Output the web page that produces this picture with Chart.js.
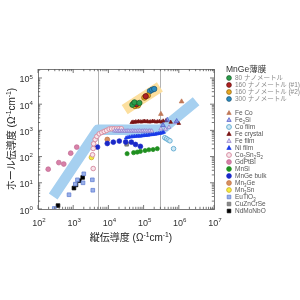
<!DOCTYPE html>
<html><head><meta charset="utf-8">
<script src="https://cdn.jsdelivr.net/npm/chart.js@4.4.1/dist/chart.umd.min.js"></script>
<style>html,body{margin:0;padding:0;background:#fff}#wrap{width:300px;height:300px;position:relative}</style>
</head><body><div id="wrap"><canvas id="c" width="300" height="300"></canvas></div>
<script>
// ---- axes ----
const xMin = 100, xMax = 1e7;
const yMin = 1, yMax = 220000;
const xTickExps = [2, 3, 4, 5, 6, 7];
const yTickExps = [0, 1, 2, 3, 4, 5];
const crossoverLines = [5000, 300000];
const xTitle = [{t:'縦伝導度 (Ω'},{t:'-1',s:1},{t:'cm'},{t:'-1',s:1},{t:')'}];
const yTitle = [{t:'ホール伝導度 (Ω'},{t:'-1',s:1},{t:'cm'},{t:'-1',s:1},{t:')'}];
const legendTitle = 'MnGe薄膜';

// ---- guide bands ----
const blueBandX = [270, 5000, 316000, 3100000];
const blueBandY = [3, 1050, 1050, 12900];
const yellowBandX = [29000, 290000];
const yellowBandY = [6200, 45700];

// ---- MnGe thin films ----
const mnge80X = [48000, 55000, 76000];
const mnge80Y = [9500, 11700, 11200];
const mnge160aX = [52000, 63000, 115000];
const mnge160aY = [10500, 10000, 20000];
const mnge160bX = [57000, 69000, 105000, 132000];
const mnge160bY = [8500, 8900, 17800, 21400];
const mnge300X = [151000, 174000, 200000];
const mnge300Y = [31600, 35500, 38000];

// ---- other materials ----
const feCoX = [310000, 1200000];
const feCoY = [4200, 12600];
const fe3SiX = [355000, 470000, 870000];
const fe3SiY = [1580, 2500, 2240];
const coFilmX = [400000, 450000, 500000, 560000, 710000];
const coFilmY = [525, 480, 435, 400, 200];
const feCrystalX = [46000, 50000, 55000, 60000, 66000, 72000, 80000, 88000, 97000, 107000, 118000, 130000, 145000, 160000, 180000, 200000, 225000, 250000, 280000, 320000, 360000, 430000, 590000, 1000000];
const feCrystalY = [2000, 2100, 2050, 2150, 2100, 2200, 2150, 2100, 2200, 2250, 2150, 2200, 2100, 2150, 2250, 2200, 2100, 2150, 2200, 2100, 2300, 2350, 2050, 1850];
const feFilmX = [15000, 17000, 19000, 21000, 24000, 27000, 30000, 34000, 38000, 43000, 48000, 54000, 60000, 68000, 76000, 85000, 95000, 107000, 120000, 135000, 150000, 170000, 310000, 420000, 525000, 810000];
const feFilmY = [950, 960, 940, 950, 960, 950, 940, 960, 950, 940, 960, 950, 940, 950, 960, 940, 950, 960, 950, 940, 960, 950, 1150, 1120, 1320, 2000];
const niFilmX = [32000, 36000, 40000, 45000, 50000, 56000, 63000, 70000, 78000, 87000, 97000, 108000, 120000, 135000, 150000, 170000, 190000, 215000, 240000, 270000, 300000, 340000, 370000];
const niFilmY = [520, 540, 560, 570, 580, 590, 600, 610, 600, 620, 630, 640, 650, 660, 680, 690, 700, 720, 740, 760, 780, 820, 850];
const co3Sn2S2X = [3700, 3550, 3700, 3800, 4200, 4700, 5500, 6500, 7600, 8900, 10500, 12300, 14500, 17000, 20000, 23400];
const co3Sn2S2Y = [35, 117, 204, 309, 447, 589, 741, 832, 912, 1000, 1120, 1150, 1150, 1140, 1150, 1150];
const gdPtBiX = [195, 390, 540, 850, 1260];
const gdPtBiY = [33, 59, 52, 135, 230];
const mnSiX = [34000, 52000, 66000, 81000, 110000, 141000, 186000, 245000];
const mnSiY = [129, 141, 148, 158, 170, 182, 186, 200];
const mnGeBulkX = [4900, 9300, 13800, 20400, 31000, 45000, 59000, 81000];
const mnGeBulkY = [230, 316, 355, 390, 360, 355, 290, 245];
const mn3GeX = [9300];
const mn3GeY = [450];
const mn3SnX = [3300];
const mn3SnY = [93];
const euTiO3X = [290, 760, 1150, 1320, 1900, 2000, 3500, 3600];
const euTiO3Y = [1.05, 3.5, 8.9, 13, 10, 22, 13, 5.2];
const cuZnCrSeX = [33000];
const cuZnCrSeY = [295];
const ndMoNbOX = [370, 1050, 1200, 1500, 1860];
const ndMoNbOY = [1.35, 6.3, 8.3, 12, 16];

const pts = (xs, ys) => xs.map((x, i) => ({x, y: ys[i]}));
const FONT = "'Liberation Sans', Arial, 'Noto Sans CJK JP', sans-serif";

function mk(label, parts, xs, ys, style, shape, r, bg, bd, bw) {
  return {label, legendParts: parts, legendGroup: style, data: pts(xs, ys), pointStyle: shape,
    pointRadius: r, backgroundColor: bg, borderColor: bd || bg, borderWidth: bw == null ? 0.7 : bw, showLine: false};
}

const series = [
  mk('80 ナノメートル', [{t:'80 ナノメートル'}], mnge80X, mnge80Y, 'jp', 'circle', 2.7, '#2a9d4a', '#1a5a2a'),
  mk('160 ナノメートル (#1)', [{t:'160 ナノメートル (#1)'}], mnge160aX, mnge160aY, 'jp', 'circle', 2.7, '#b02020', '#601010'),
  mk('160 ナノメートル (#2)', [{t:'160 ナノメートル (#2)'}], mnge160bX, mnge160bY, 'jp', 'circle', 2.7, '#e8a820', '#8a6010'),
  mk('300 ナノメートル', [{t:'300 ナノメートル'}], mnge300X, mnge300Y, 'jp', 'circle', 2.7, '#2a8cc0', '#185070'),
  mk('Fe Co', [{t:'Fe Co'}], feCoX, feCoY, 'm', 'triangle', 2.7, '#c07858'),
  mk('Fe3Si', [{t:'Fe'},{t:'3',b:1},{t:'Si'}], fe3SiX, fe3SiY, 'm', 'triangle', 2.7, 'rgba(110,120,220,0.6)', '#4a58c8'),
  mk('Co film', [{t:'Co film'}], coFilmX, coFilmY, 'm', 'circle', 2.3, '#cfe8f4', '#6ab0d4', 1),
  mk('Fe crystal', [{t:'Fe crystal'}], feCrystalX, feCrystalY, 'm', 'triangle', 2.1, '#7a1414'),
  mk('Fe film', [{t:'Fe film'}], feFilmX, feFilmY, 'm', 'triangle', 2.3, '#dcd4f2', '#8a78c8'),
  mk('Ni film', [{t:'Ni film'}], niFilmX, niFilmY, 'm', 'triangle', 2.1, '#1a3ae8'),
  mk('Co3Sn2S2', [{t:'Co'},{t:'3',b:1},{t:'Sn'},{t:'2',b:1},{t:'S'},{t:'2',b:1}], co3Sn2S2X, co3Sn2S2Y, 'm', 'circle', 2.3, '#f8e4ea', '#d890a4', 1),
  mk('GdPtBi', [{t:'GdPtBi'}], gdPtBiX, gdPtBiY, 'm', 'circle', 2.4, '#d880a8', '#c06890'),
  mk('MnSi', [{t:'MnSi'}], mnSiX, mnSiY, 'm', 'circle', 2.1, '#1f8f1f'),
  mk('MnGe bulk', [{t:'MnGe bulk'}], mnGeBulkX, mnGeBulkY, 'm', 'circle', 2.4, '#1a28c8'),
  mk('Mn3Ge', [{t:'Mn'},{t:'3',b:1},{t:'Ge'}], mn3GeX, mn3GeY, 'm', 'circle', 2.4, '#d89060', '#c07040'),
  mk('Mn3Sn', [{t:'Mn'},{t:'3',b:1},{t:'Sn'}], mn3SnX, mn3SnY, 'm', 'circle', 2.4, '#f2f040', '#c8a020'),
  mk('EuTiO3', [{t:'EuTiO'},{t:'3',b:1}], euTiO3X, euTiO3Y, 'm', 'rect', 2.6, '#9ab0e8', '#5a78d0'),
  mk('CuZnCrSe', [{t:'CuZnCrSe'}], cuZnCrSeX, cuZnCrSeY, 'm', 'rect', 2.6, '#8a8a8a', '#6a6a6a'),
  mk('NdMoNbO', [{t:'NdMoNbO'}], ndMoNbOX, ndMoNbOY, 'm', 'rect', 2.6, '#000000', '#000000')
];

const bands = [
  {label: 'band-yellow', data: pts(yellowBandX, yellowBandY), showLine: true, pointRadius: 0,
   borderColor: '#fcdf9e', borderWidth: 11, borderCapStyle: 'butt', fill: false},
  {label: 'band-blue', data: pts(blueBandX, blueBandY), showLine: true, pointRadius: 0,
   borderColor: '#a6d0f0', borderWidth: 10.5, borderCapStyle: 'butt', borderJoinStyle: 'round', fill: false}
];

function drawRich(ctx, parts, x, y, align, base, color, weight) {
  ctx.save();
  ctx.fillStyle = color; ctx.textBaseline = 'alphabetic'; ctx.textAlign = 'left';
  const small = base * 0.68;
  let w = 0;
  const ws = parts.map(p => { ctx.font = `${weight || 'normal'} ${(p.s || p.b) ? small : base}px ${FONT}`; const m = ctx.measureText(p.t).width; w += m; return m; });
  let cx = align === 'center' ? x - w / 2 : align === 'right' ? x - w : x;
  parts.forEach((p, i) => {
    ctx.font = `${weight || 'normal'} ${(p.s || p.b) ? small : base}px ${FONT}`;
    const dy = p.s ? -base * 0.42 : p.b ? base * 0.22 : 0;
    ctx.fillText(p.t, cx, y + dy);
    cx += ws[i];
  });
  ctx.restore();
}

function marker(ctx, shape, x, y, r, bg, bd, bw) {
  ctx.save();
  ctx.fillStyle = bg; ctx.strokeStyle = bd; ctx.lineWidth = bw;
  ctx.beginPath();
  if (shape === 'circle') ctx.arc(x, y, r, 0, Math.PI * 2);
  else if (shape === 'rect') { const s = r * 0.75; ctx.rect(x - s, y - s, 2 * s, 2 * s); }
  else { const h = r * 1.5; ctx.moveTo(x, y - r); ctx.lineTo(x + h * 0.6, y + r * 0.6); ctx.lineTo(x - h * 0.6, y + r * 0.6); ctx.closePath(); }
  ctx.fill(); if (bw > 0) ctx.stroke();
  ctx.restore();
}

const decor = {
  id: 'decor',
  beforeDatasetsDraw(chart) {
    const {ctx, chartArea: a, scales: {x}} = chart;
    ctx.save();
    ctx.strokeStyle = '#b4b4b4'; ctx.lineWidth = 1;
    crossoverLines.forEach(v => {
      const px = Math.round(x.getPixelForValue(v)) + 0.5;
      ctx.beginPath(); ctx.moveTo(px, a.top); ctx.lineTo(px, a.bottom); ctx.stroke();
    });
    ctx.restore();
  },
  afterDatasetsDraw(chart) {
    const {ctx, chartArea: a, scales: {x, y}} = chart;
    ctx.save();
    ctx.strokeStyle = '#7a7a7a'; ctx.lineWidth = 1;
    ctx.strokeRect(Math.round(a.left) + 0.5, Math.round(a.top) + 0.5, Math.round(a.right - a.left), Math.round(a.bottom - a.top));
    ctx.strokeStyle = '#555'; ctx.lineWidth = 0.8;
    const xs = [], ys = [];
    for (let e = 2; e < 7; e++) for (let m = 1; m < 10; m++) xs.push([m * Math.pow(10, e), m === 1]);
    xs.push([1e7, true]);
    for (let e = 0; e < 6; e++) for (let m = 1; m < 10; m++) { const v = m * Math.pow(10, e); if (v <= yMax) ys.push([v, m === 1]); }
    xs.forEach(([v, maj]) => {
      const px = x.getPixelForValue(v), L = maj ? 4 : 2.2;
      ctx.beginPath(); ctx.moveTo(px, a.bottom); ctx.lineTo(px, a.bottom - L);
      ctx.moveTo(px, a.top); ctx.lineTo(px, a.top + L); ctx.stroke();
    });
    ys.forEach(([v, maj]) => {
      const py = y.getPixelForValue(v), L = maj ? 4 : 2.2;
      ctx.beginPath(); ctx.moveTo(a.left, py); ctx.lineTo(a.left + L, py);
      ctx.moveTo(a.right, py); ctx.lineTo(a.right - L, py); ctx.stroke();
    });
    ctx.restore();
    xTickExps.forEach(e => {
      const px = x.getPixelForValue(Math.pow(10, e));
      drawRich(ctx, [{t:'10'},{t:String(e),s:1}], px + 1, 226, 'center', 9, '#333');
    });
    yTickExps.forEach(e => {
      const py = y.getPixelForValue(Math.pow(10, e));
      drawRich(ctx, [{t:'10'},{t:String(e),s:1}], a.left - 5, py + 4.5, 'right', 9, '#333');
    });
    drawRich(ctx, xTitle, (a.left + a.right) / 2 + 5, 241, 'center', 10, '#222');
    ctx.save();
    ctx.translate(15, (a.top + a.bottom) / 2);
    ctx.rotate(-Math.PI / 2);
    drawRich(ctx, yTitle, 0, 0, 'center', 10, '#222');
    ctx.restore();
    drawRich(ctx, [{t: legendTitle}], 226, 72, 'left', 8.5, '#333');
    series.forEach((d, i) => {
      const yy = i < 4 ? 78 + i * 7 : 113 + (i - 4) * 7;
      marker(ctx, d.pointStyle, 229, yy, 2.4, d.backgroundColor, d.borderColor, d.borderWidth);
      drawRich(ctx, d.legendParts, 235, yy + 2.3, 'left', 6.5, d.legendGroup === 'jp' ? '#888' : '#555');
    });
  }
};

new Chart(document.getElementById('c'), {
  type: 'scatter',
  data: {datasets: [...series, ...bands]},
  options: {
    responsive: false, animation: false, devicePixelRatio: 1,
    layout: {padding: {left: 38, right: 86, top: 69, bottom: 91}},
    plugins: {legend: {display: false}, tooltip: {enabled: false}},
    scales: {
      x: {type: 'logarithmic', min: xMin, max: xMax, display: false},
      y: {type: 'logarithmic', min: yMin, max: yMax, display: false}
    }
  },
  plugins: [decor]
});
</script>
</body></html>
